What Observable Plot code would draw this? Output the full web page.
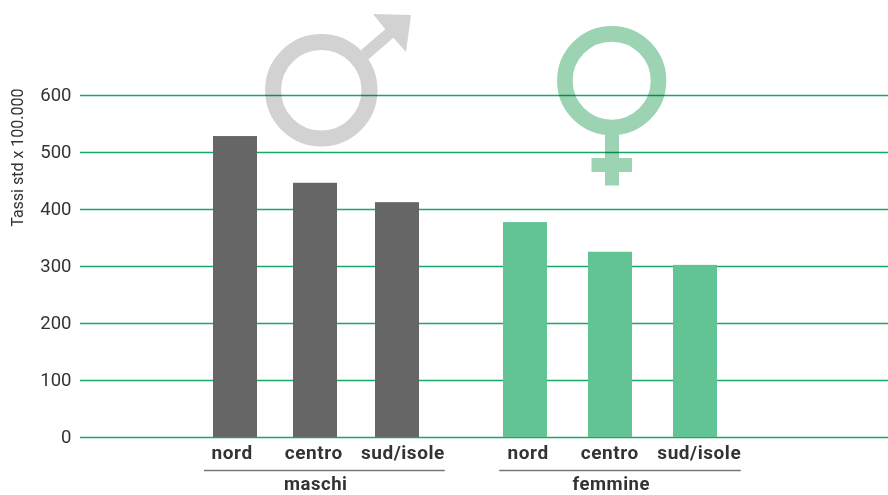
<!DOCTYPE html>
<html><head><meta charset="utf-8">
<script src="https://cdn.jsdelivr.net/npm/d3@7"></script>
<script src="https://cdn.jsdelivr.net/npm/@observablehq/plot@0.6"></script>
<style>html,body{margin:0;padding:0;background:#fff}svg{display:block}.bold{letter-spacing:.55px}</style>
</head><body><div id="chart"></div>
<script>
const groups = ["maschi","maschi","maschi","femmine","femmine","femmine"];
const areas = ["nord","centro","sud/isole","nord","centro","sud/isole"];
const rates = [528,446,412,377,325,302];
const slots = [1.9375,2.9375,3.9625,5.5625,6.625,7.6875];
const labelSlots = [1.895,2.915,4.03,5.595,6.615,7.735];
const groupNames = ["maschi","femmine"];
const groupSlots = [2.94,6.635];
const groupSpans = [[1.55,4.56],[5.24,8.26]];
const gridValues = [0,100,200,300,400,500,600];
const barColors = {maschi:"#666666",femmine:"#62c495"};
const font = "Roboto, 'Noto Sans', sans-serif";
const rows = areas.map((a,i)=>({area:a,group:groups[i],rate:rates[i],slot:slots[i],labelSlot:labelSlots[i]}));
const halfBar = 0.275;

function symbols(){
  const g = d3.create("svg:g").style("mix-blend-mode","multiply");
  const grey="#d2d2d2", green="#9bd3b3";
  g.append("circle").attr("cx",321.3).attr("cy",90.3).attr("r",48.2).attr("fill","none").attr("stroke",grey).attr("stroke-width",16);
  g.append("path").attr("fill",grey).attr("d","M361,50L385.3,29.3L373,14L411,15L406,52L393.3,37.7L368.3,59.5Z");
  g.append("circle").attr("cx",611.7).attr("cy",80.7).attr("r",46.8).attr("fill","none").attr("stroke",green).attr("stroke-width",15.6);
  g.append("path").attr("fill",green).attr("d","M605,134H619V158H632V172H619V185.5H605V172H591.5V158H605Z");
  return g.node();
}

const plot = Plot.plot({
  width:888,height:495,marginTop:0,marginRight:0,marginBottom:58,marginLeft:80,
  style:{fontFamily:font,background:"#fff",overflow:"visible"},
  x:{type:"linear",domain:[0,10.1],axis:null},
  y:{domain:[0,766.67],axis:null},
  marks:[
    Plot.ruleY(gridValues,{stroke:"#16a868",strokeWidth:1.3}),
    symbols,
    Plot.rectY(rows,{x1:d=>d.slot-halfBar,x2:d=>d.slot+halfBar,y1:0,y2:"rate",fill:d=>barColors[d.group]}),
    Plot.text(gridValues,{y:d=>d,text:d=>String(d),frameAnchor:"left",textAnchor:"end",dx:-9,fontSize:18.5,fill:"#333"}),
    Plot.text(["Tassi std x 100.000"],{frameAnchor:"left",y:[491],rotate:-90,textAnchor:"middle",dx:-63,fontSize:16,fill:"#333"}),
    Plot.text(rows,{x:"labelSlot",y:0,text:"area",dy:15,fontSize:19,fontWeight:700,fill:"#333",className:"bold"}),
    Plot.ruleY(groupSpans,{x1:d=>d[0],x2:d=>d[1],y:0,dy:33,stroke:"#777",strokeWidth:1.4}),
    Plot.text(groupNames,{x:(d,i)=>groupSlots[i],y:0,text:d=>d,dy:47,fontSize:18.5,fontWeight:700,fill:"#333",className:"bold"})
  ]
});
document.getElementById("chart").appendChild(plot);
</script></body></html>
